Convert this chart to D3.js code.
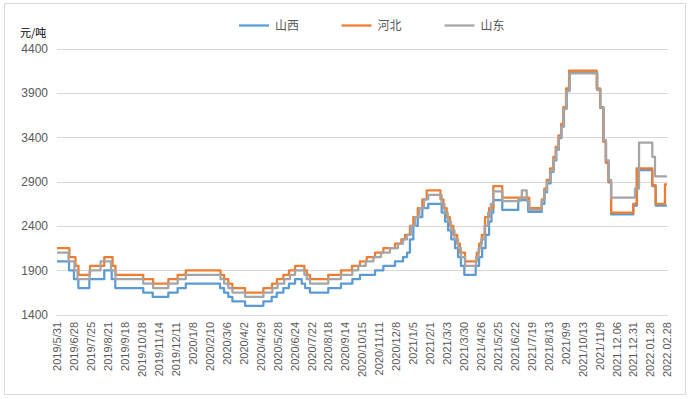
<!DOCTYPE html>
<html>
<head>
<meta charset="utf-8">
<script src="https://cdn.jsdelivr.net/npm/d3@7/dist/d3.min.js"></script>
<style>
html,body{margin:0;padding:0;background:#fff;}
svg{display:block;}
text{font-family:"Liberation Sans",Arial,sans-serif;}
</style>
</head>
<body>
<svg id="chart" width="691" height="399"></svg>
<script>
// ---- data ----
const xLabels = ["2019/5/31","2019/6/28","2019/7/25","2019/8/21","2019/9/18","2019/10/18","2019/11/14","2019/12/11",
"2020/1/8","2020/2/10","2020/3/6","2020/4/2","2020/4/29","2020/5/28","2020/6/24","2020/7/22","2020/8/18","2020/9/14",
"2020/10/15","2020/11/11","2020/12/8","2021/1/5","2021/2/1","2021/3/3","2021/3/30","2021/4/26","2021/5/25","2021/6/22",
"2021/7/19","2021/8/13","2021/9/9","2021/10/13","2021/11/9","2021.12.06","2021.12.31","2022.01.28","2022.02.28"];
const yTicks = [1400,1900,2400,2900,3400,3900,4400];
const seriesNames = ["山西","河北","山东"];

// step positions (in label-interval units) and values
const shanxiT = [0,0.71,1.00,1.26,1.91,2.79,3.23,3.44,5.09,5.65,6.57,7.12,7.60,9.62,9.86,10.11,10.35,11.10,12.18,12.67,12.97,13.36,13.69,14.05,14.44,14.64,14.93,16.01,16.76,17.43,17.88,18.77,19.26,19.95,20.42,20.66,20.83,21.03,21.29,21.56,21.91,22.70,22.90,23.08,23.27,23.49,23.67,23.84,24.04,24.71,24.91,25.09,25.29,25.50,25.64,25.75,26.28,27.22,27.81,28.61,28.77,28.92,29.13,29.31,29.47,29.62,29.77,29.92,30.08,30.25,31.87,32.06,32.25,32.40,32.56,32.70,34.01,34.23,35.13,35.33,36];
const shanxiV = [2000,1900,1800,1700,1800,1900,1800,1700,1650,1600,1650,1700,1750,1700,1650,1600,1550,1500,1550,1600,1650,1700,1750,1800,1750,1700,1650,1700,1750,1800,1850,1900,1950,2000,2050,2100,2250,2400,2500,2600,2650,2550,2450,2350,2250,2150,2050,1950,1850,1950,2050,2150,2300,2450,2550,2690,2580,2690,2560,2650,2780,2880,3010,3140,3260,3390,3520,3720,3930,4130,3940,3730,3350,3110,2890,2530,2630,3030,2850,2630,2630];

const hebeiT = [0,0.73,1.09,1.27,1.95,2.79,3.28,3.45,5.09,5.67,6.57,7.12,7.60,9.65,9.86,10.11,10.35,11.10,12.18,12.69,12.98,13.36,13.69,14.05,14.60,14.74,14.93,16.01,16.76,17.41,17.88,18.28,18.77,19.26,19.95,20.32,20.54,20.83,21.03,21.29,21.56,21.82,22.63,22.81,23.00,23.19,23.39,23.62,23.78,24.08,24.77,24.91,25.07,25.26,25.50,25.75,26.28,27.87,28.61,28.76,28.90,29.10,29.29,29.43,29.59,29.75,29.88,30.04,30.22,31.85,32.05,32.24,32.38,32.54,32.70,34.01,34.21,35.13,35.33,35.88,36];
const hebeiV = [2150,2050,1950,1850,1950,2050,1950,1850,1800,1750,1800,1850,1900,1850,1800,1750,1700,1650,1700,1750,1800,1850,1900,1950,1900,1850,1800,1850,1900,1950,2000,2050,2100,2150,2200,2250,2300,2400,2500,2600,2700,2800,2700,2600,2500,2400,2300,2200,2100,2000,2100,2200,2300,2500,2600,2850,2720,2600,2700,2820,2920,3050,3180,3290,3420,3550,3740,3950,4150,3950,3740,3350,3120,2900,2550,2650,3050,2860,2650,2870,2870];

const shandongT = [0,0.68,1.03,1.21,1.92,2.57,3.19,3.45,5.09,5.67,6.57,7.12,7.60,9.65,9.86,10.11,10.35,11.10,12.18,12.71,13.02,13.41,13.75,14.05,14.60,14.74,14.93,16.01,16.76,17.43,17.78,18.22,18.67,19.12,19.65,20.12,20.42,20.66,20.89,21.13,21.39,21.66,21.91,22.70,22.87,23.06,23.25,23.46,23.67,23.84,24.08,24.73,24.88,25.04,25.23,25.44,25.61,25.75,26.28,27.33,27.43,27.72,27.87,28.61,28.77,28.92,29.11,29.30,29.45,29.61,29.76,29.90,30.06,30.25,31.89,32.07,32.26,32.40,32.56,32.70,34.11,34.35,35.13,35.29,36];
const shandongV = [2100,2000,1900,1800,1900,2000,1900,1800,1750,1700,1750,1800,1850,1800,1750,1700,1650,1600,1650,1700,1750,1800,1850,1900,1850,1800,1750,1800,1850,1900,1950,2000,2050,2100,2150,2200,2250,2300,2400,2500,2600,2700,2750,2650,2550,2450,2350,2250,2150,2050,1950,2050,2150,2250,2400,2550,2650,2790,2680,2720,2800,2680,2580,2690,2800,2900,3020,3150,3270,3400,3520,3720,3920,4120,3930,3730,3370,3140,2920,2720,2820,3340,3180,2960,2960];

const colors = ["#5B9BD5","#ED7D31","#A5A5A5"];

// ---- chart ----
const svg = d3.select("#chart");
const W = 691, H = 399;
svg.append("rect").attr("x",4.5).attr("y",3.5).attr("width",681).attr("height",391)
  .attr("fill","#fff").attr("stroke","#d9d9d9").attr("stroke-width",1);

const x = d3.scaleLinear().domain([0,36]).range([57,667]);
const y = d3.scaleLinear().domain([1400,4400]).range([314.7,48.5]);

// gridlines
svg.append("g").selectAll("line").data(yTicks).join("line")
  .attr("x1",57).attr("x2",668)
  .attr("y1",d=>Math.round(y(d))+0.5).attr("y2",d=>Math.round(y(d))+0.5)
  .attr("stroke","#d9d9d9").attr("stroke-width",1);

// y axis labels
const yAxis = d3.axisLeft(y).tickValues(yTicks).tickSize(0).tickPadding(0).tickFormat(d3.format("d"));
const gy = svg.append("g").attr("transform","translate(48,0)").call(yAxis);
gy.select(".domain").remove();
gy.selectAll("text").attr("fill","#595959").style("font-size","12px")
  .style("font-family","'Liberation Sans',Arial,sans-serif");

// x axis labels
const xAxis = d3.axisBottom(x).tickValues(d3.range(xLabels.length)).tickSize(0).tickFormat(i=>xLabels[i]);
const gx = svg.append("g").attr("transform","translate(0,322)").call(xAxis);
gx.select(".domain").remove();
gx.selectAll("text")
  .attr("transform","rotate(-90)")
  .attr("text-anchor","end")
  .attr("x",0).attr("y",0).attr("dy","0.35em")
  .attr("fill","#595959").style("font-size","11px")
  .style("font-family","'Liberation Sans',Arial,sans-serif");

// unit label
svg.append("text").attr("x",20).attr("y",37).text("元/吨")
  .attr("fill","#000").style("font-size","11px")
  .style("font-family","'Noto Sans CJK SC',sans-serif");

// lines
const line = d3.line().x(d=>x(d[0])).y(d=>y(d[1])).curve(d3.curveStepAfter);
const series = [
  d3.zip(shanxiT, shanxiV),
  d3.zip(hebeiT, hebeiV),
  d3.zip(shandongT, shandongV)
];
svg.append("g").selectAll("path").data(series).join("path")
  .attr("d",line).attr("fill","none")
  .attr("stroke",(d,i)=>colors[i]).attr("stroke-width",2.25)
  .attr("stroke-linejoin","round");

// legend
const legendX = [239, 341.5, 444.5];
const lg = svg.append("g");
seriesNames.forEach((n,i)=>{
  lg.append("line").attr("x1",legendX[i]).attr("x2",legendX[i]+30)
    .attr("y1",25.5).attr("y2",25.5).attr("stroke",colors[i]).attr("stroke-width",2.25);
  lg.append("text").attr("x",legendX[i]+36).attr("y",25.5).attr("dy","0.35em")
    .text(n).attr("fill","#595959").style("font-size","12px")
    .style("font-family","'Noto Sans CJK SC',sans-serif");
});
</script>
</body>
</html>
